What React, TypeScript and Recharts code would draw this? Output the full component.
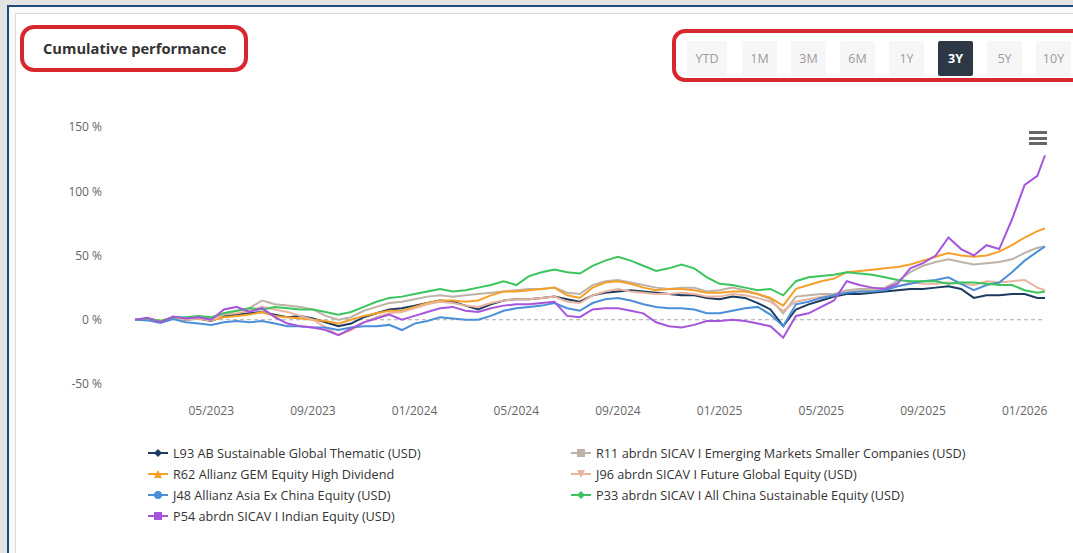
import { LineChart, Line, XAxis, YAxis, ReferenceLine } from 'recharts';

// month offsets from Feb 2023 (half-month steps)
const months = [
  0, 0.5, 1, 1.5, 2, 2.5, 3, 3.5, 4, 4.5, 5, 5.5, 6, 6.5, 7, 7.5, 8, 8.5, 9, 9.5, 10, 10.5, 11, 11.5, 12, 12.5,
  13, 13.5, 14, 14.5, 15, 15.5, 16, 16.5, 17, 17.5, 18, 18.5, 19, 19.5, 20, 20.5, 21, 21.5, 22, 22.5, 23, 23.5, 24, 24.5,
  25, 25.5, 26, 26.5, 27, 27.5, 28, 28.5, 29, 29.5, 30, 30.5, 31, 31.5, 32, 32.5, 33, 33.5, 34, 34.5, 35, 35.5, 35.8,
];

const tickMonths = [3, 7, 11, 15, 19, 23, 27, 31, 35];
const tickLabels = ['05/2023', '09/2023', '01/2024', '05/2024', '09/2024', '01/2025', '05/2025', '09/2025', '01/2026'];
const yTicks = [-50, 0, 50, 100, 150];
const ranges = ['YTD', '1M', '3M', '6M', '1Y', '3Y', '5Y', '10Y'];
const activeRange = '3Y';

const l93 = [
  0, 1, -1.5, 1.5, 0, 1, -1, 3, 4, 5, 6, 4, 2, 3, 1, -2, -5, -3, 2, 5, 8, 9, 11, 13, 15, 14,
  11, 8, 12, 15, 16, 16, 17, 18, 16, 14, 19, 21, 22, 23, 22, 21, 20, 19, 19, 17, 16, 18, 17, 13,
  8, -5, 8, 12, 15, 18, 20, 20, 21, 22, 23, 24, 24, 25, 26, 24, 17, 19, 19, 20, 20, 17, 17,
];
const r11 = [
  0, 0.5, -1, 2, 1, 2, 1, 5, 7, 9, 15, 12, 11, 10, 8, 3, 0, 2, 7, 10, 13, 14, 16, 18, 19, 18,
  19, 20, 21, 22, 23, 24, 24, 25, 21, 20, 27, 30, 31, 29, 27, 25, 24, 25, 25, 22, 23, 25, 23, 20,
  16, 5, 18, 19, 20, 20, 23, 24, 24, 25, 30, 37, 42, 45, 47, 45, 43, 44, 45, 47, 52, 56, 57,
];
const r62 = [
  0, 1, -1, 1.5, 0.5, 1, -0.5, 2, 3, 4, 6, 3, 2, 1, 0, -1, -3, 0, 3, 5, 7, 7, 10, 13, 15, 15,
  14, 15, 19, 22, 22, 23, 24, 25, 19, 17, 25, 29, 30, 28, 25, 23, 24, 24, 23, 21, 21, 22, 22, 20,
  17, 11, 24, 27, 30, 32, 37, 38, 39, 40, 41, 43, 46, 49, 52, 50, 49, 50, 53, 58, 64, 69, 71,
];
const j96 = [
  0, 0.5, -1.5, 1, 0, 1, -0.5, 4, 5, 7, 10, 8, 6, 3, 0, -6, -12, -8, -2, 2, 5, 6, 9, 12, 14, 13,
  11, 10, 13, 15, 16, 16, 17, 18, 14, 13, 19, 22, 24, 22, 21, 20, 20, 21, 20, 18, 18, 20, 19, 17,
  14, 7, 14, 16, 18, 19, 22, 22, 23, 24, 26, 29, 28, 28, 29, 28, 27, 30, 29, 30, 31, 25, 23,
];
const j48 = [
  0, -0.5, -2.5, 0.5, -2, -3, -4, -2, -1, -2, -1, -3, -5, -5, -6, -6, -8, -6, -5, -5, -4, -8, -3, -1, 2, 1,
  0, 0, 3, 7, 9, 10, 11, 13, 9, 7, 13, 16, 17, 15, 12, 10, 9, 9, 8, 5, 5, 7, 9, 10,
  4, -5, 12, 14, 17, 19, 21, 22, 22, 23, 26, 28, 30, 31, 33, 28, 23, 27, 29, 37, 46, 53, 57,
];
const p33 = [
  0, 1, -1, 2, 2, 3, 2, 5, 7, 9, 8, 10, 9, 8, 8, 6, 4, 6, 10, 14, 17, 18, 20, 22, 24, 22,
  23, 25, 27, 30, 27, 34, 37, 39, 37, 36, 42, 46, 49, 46, 42, 38, 40, 43, 40, 33, 28, 27, 25, 23,
  24, 19, 30, 33, 34, 35, 37, 36, 35, 33, 31, 30, 30, 30, 28, 29, 29, 28, 27, 27, 23, 21, 22,
];
const p54 = [
  0, 1.5, -2, 2.5, 1, 2, 0, 8, 10, 6, 9, 2, -3, -5, -6, -8, -12, -7, -2, 1, 4, 0, 3, 6, 9, 10,
  7, 6, 9, 11, 12, 12, 13, 14, 3, 2, 8, 9, 9, 7, 5, -2, -5, -6, -4, -1, -1, 0, -1, -3,
  -5, -14, 3, 5, 10, 15, 30, 27, 25, 24, 28, 40, 44, 50, 64, 55, 50, 58, 55, 78, 105, 112, 128,
];

const series = [
  { key: 'l93', name: 'L93 AB Sustainable Global Thematic (USD)', color: '#1b3a5e', symbol: 'diamond', values: l93 },
  { key: 'r11', name: 'R11 abrdn SICAV I Emerging Markets Smaller Companies (USD)', color: '#bdb2a6', symbol: 'square', values: r11 },
  { key: 'r62', name: 'R62 Allianz GEM Equity High Dividend', color: '#f5a02a', symbol: 'triangle', values: r62 },
  { key: 'j96', name: 'J96 abrdn SICAV I Future Global Equity (USD)', color: '#e9b4a0', symbol: 'triangle-down', values: j96 },
  { key: 'j48', name: 'J48 Allianz Asia Ex China Equity (USD)', color: '#4a8fd7', symbol: 'circle', values: j48 },
  { key: 'p33', name: 'P33 abrdn SICAV I All China Sustainable Equity (USD)', color: '#3cc45e', symbol: 'diamond', values: p33 },
  { key: 'p54', name: 'P54 abrdn SICAV I Indian Equity (USD)', color: '#a656dc', symbol: 'square', values: p54 },
];

const data = months.map((m, i) => {
  const row: Record<string, number> = { m };
  series.forEach((s) => {
    row[s.key] = s.values[i];
  });
  return row;
});

const font = '"Open Sans", "DejaVu Sans", sans-serif';

function Marker({ symbol, color }: { symbol: string; color: string }) {
  let shape = null;
  if (symbol === 'diamond') shape = <polygon points="10,2 14,6 10,10 6,6" fill={color} />;
  else if (symbol === 'square') shape = <rect x={6} y={2} width={8} height={8} fill={color} />;
  else if (symbol === 'circle') shape = <circle cx={10} cy={6} r={4} fill={color} />;
  else if (symbol === 'triangle') shape = <polygon points="10,2 14,10 6,10" fill={color} />;
  else shape = <polygon points="6,2 14,2 10,10" fill={color} />;
  return (
    <svg width={20} height={12} style={{ display: 'block' }}>
      <line x1={0} y1={6} x2={20} y2={6} stroke={color} strokeWidth={2} />
      {shape}
    </svg>
  );
}

export default function App() {
  return (
    <div style={{ position: 'absolute', left: 0, top: 0, width: 1073, height: 553, overflow: 'hidden', background: '#e4e4e4', fontFamily: font }}>
      <div style={{ position: 'absolute', left: 7, top: 5, width: 1100, height: 600, borderLeft: '2px solid #1e4c7a', borderTop: '2px solid #1e4c7a', background: '#f9f9f9' }} />
      <div style={{ position: 'absolute', left: 15, top: 13, width: 1100, height: 600, borderLeft: '1px solid #d8d8d8', borderTop: '1px solid #d8d8d8', background: '#ffffff' }} />

      <div style={{ position: 'absolute', left: 43, top: 38, fontSize: 14.7, fontWeight: 700, color: '#333' }}>Cumulative performance</div>
      <div style={{ position: 'absolute', left: 20, top: 25, width: 228, height: 47, border: '4px solid #d7282f', borderRadius: 14, boxSizing: 'border-box' }} />

      <div style={{ position: 'absolute', left: 687, top: 41, display: 'flex' }}>
        {ranges.map((r, i) => {
          const active = r === activeRange;
          return (
            <div
              key={r}
              style={{
                width: i === 0 ? 40 : 35,
                height: 35,
                marginRight: i === 0 ? 15 : 14,
                background: active ? '#2c3945' : '#f6f6f6',
                color: active ? '#fff' : '#9b9b9b',
                fontWeight: active ? 700 : 400,
                fontSize: 12.5,
                lineHeight: '35px',
                textAlign: 'center',
                borderRadius: 2,
                flexShrink: 0,
              }}
            >
              {r}
            </div>
          );
        })}
      </div>
      <div style={{ position: 'absolute', left: 672, top: 29, width: 440, height: 53, border: '4px solid #d7282f', borderRadius: 13, boxSizing: 'border-box' }} />

      <div style={{ position: 'absolute', left: 0, top: 0 }}>
        <LineChart width={1073} height={553} data={data} margin={{ top: 127, right: 28, left: 75, bottom: 139 }}>
          <XAxis
            dataKey="m"
            type="number"
            domain={[0, 35.8]}
            ticks={tickMonths}
            tickFormatter={(v: number) => tickLabels[tickMonths.indexOf(v)]}
            axisLine={false}
            tickLine={false}
            tickSize={0}
            tickMargin={22}
            height={30}
            tick={{ fill: '#666', fontSize: 12, fontFamily: font }}
          />
          <YAxis
            type="number"
            domain={[-50, 150]}
            ticks={yTicks}
            tickFormatter={(v: number) => `${v} %`}
            axisLine={false}
            tickLine={false}
            tickSize={0}
            tickMargin={33}
            width={60}
            tick={{ fill: '#666', fontSize: 12, fontFamily: font }}
          />
          <ReferenceLine y={0} stroke="#a8a8a8" strokeDasharray="4 3" />
          {series.map((s) => (
            <Line
              key={s.key}
              type="linear"
              dataKey={s.key}
              name={s.name}
              stroke={s.color}
              strokeWidth={2}
              dot={false}
              isAnimationActive={false}
            />
          ))}
        </LineChart>
      </div>

      <div style={{ position: 'absolute', left: 1029, top: 131, width: 18 }}>
        {[0, 1, 2].map((i) => (
          <div key={i} style={{ height: 3, background: '#666', marginBottom: 2.5 }} />
        ))}
      </div>

      <div style={{ position: 'absolute', left: 148, top: 442, width: 900, display: 'flex', flexWrap: 'wrap' }}>
        {series.map((s) => (
          <div key={s.key} style={{ width: 423, height: 21, display: 'flex', alignItems: 'center', fontSize: 12.7, color: '#333' }}>
            <Marker symbol={s.symbol} color={s.color} />
            <span style={{ marginLeft: 5, whiteSpace: 'nowrap' }}>{s.name}</span>
          </div>
        ))}
      </div>
    </div>
  );
}
